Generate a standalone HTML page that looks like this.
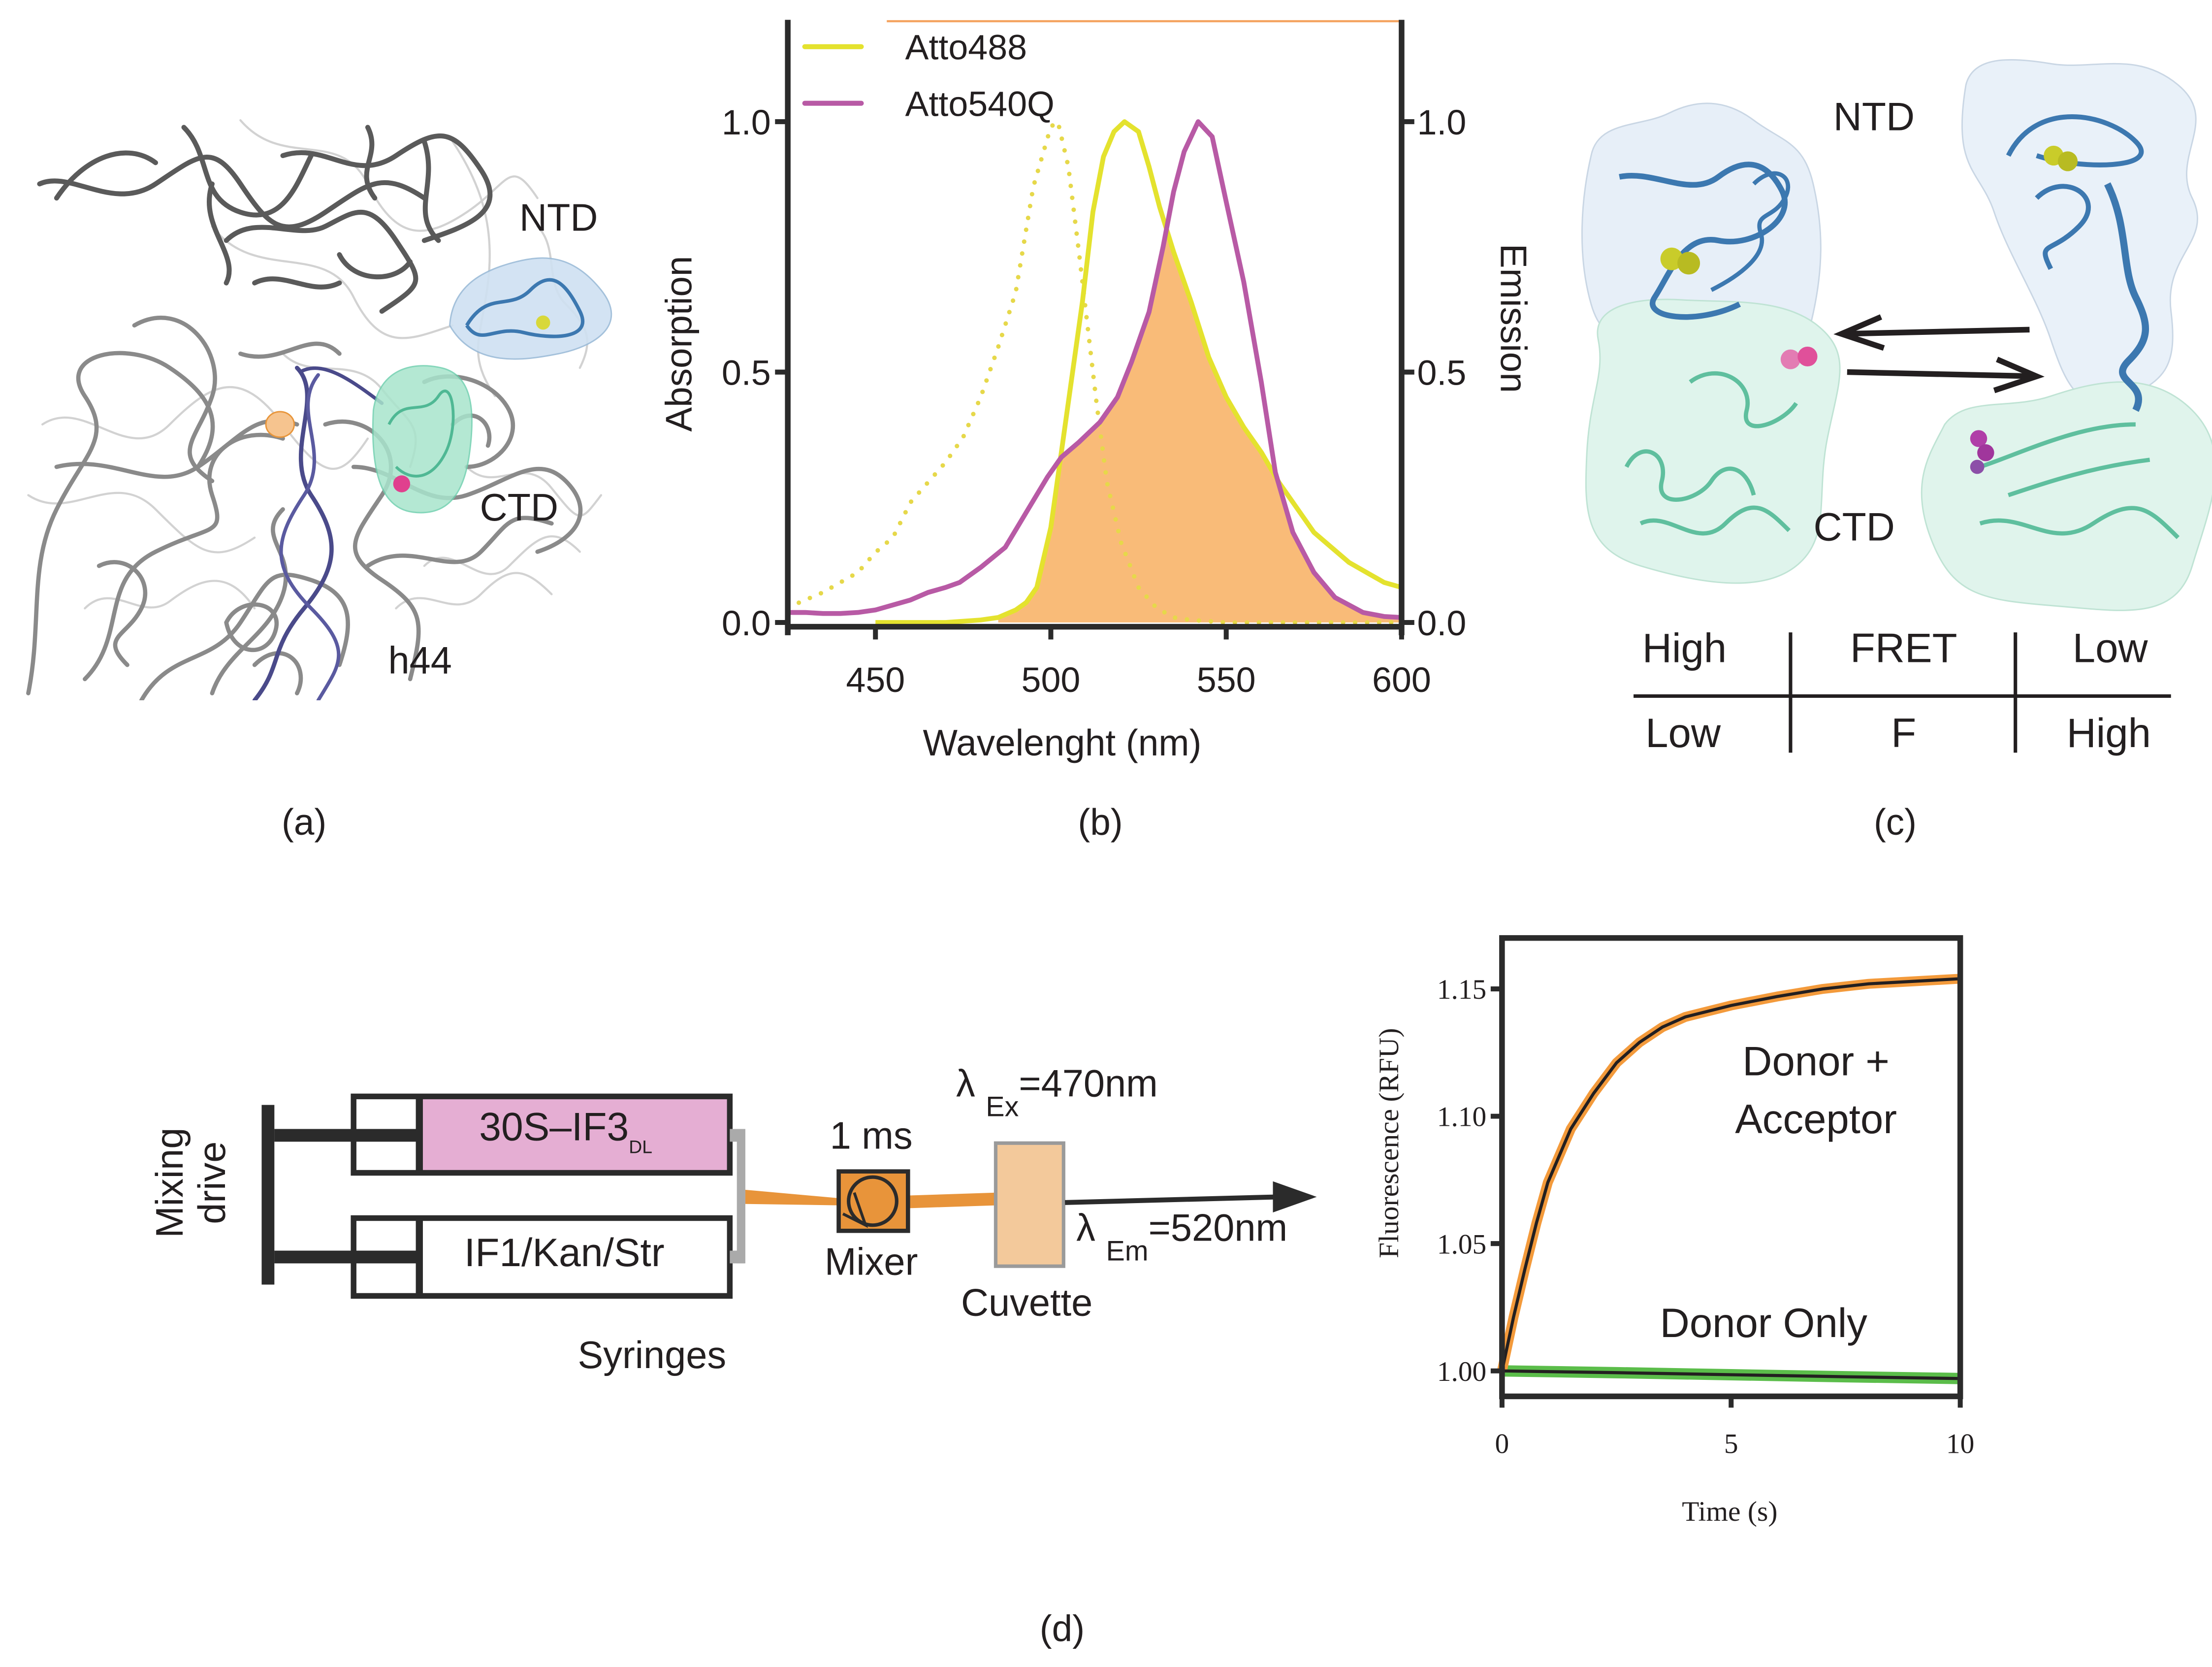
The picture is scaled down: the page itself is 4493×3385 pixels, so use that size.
<!DOCTYPE html>
<html><head><meta charset="utf-8"><style>
html,body{margin:0;padding:0;background:#fff;}
svg{display:block;}
.t{font-family:"Liberation Sans Narrow","Liberation Sans",sans-serif;fill:#231f20;}
.s{font-family:"Liberation Serif",serif;fill:#231f20;}
</style></head><body>
<svg id="fig" xmlns="http://www.w3.org/2000/svg" width="4493" height="3385" viewBox="0 0 1564 1178.3" preserveAspectRatio="none">
<rect x="0" y="0" width="1564" height="1178.3" fill="#fff"/>

<!-- Panel A -->
<g>
<clipPath id="clipA"><rect x="12" y="80" width="420" height="415"/></clipPath>
<g clip-path="url(#clipA)" fill="none" stroke-linecap="round">
 <g stroke="#d2d2d2" stroke-width="1.5">
  <path d="M170 85 C200 120 240 90 260 130 S300 170 330 150 S360 110 380 140"/>
  <path d="M150 160 C180 200 230 170 250 210 S290 240 320 230"/>
  <path d="M30 300 C60 280 90 330 120 300 S170 260 200 300 S240 340 260 310"/>
  <path d="M20 350 C50 370 80 330 110 360 S150 400 180 380"/>
  <path d="M300 400 C320 380 340 420 360 400 S390 370 410 390"/>
  <path d="M330 330 C350 350 370 320 390 345 S410 370 425 350"/>
  <path d="M280 430 C300 410 320 440 340 420 S370 400 390 420"/>
  <path d="M320 100 C340 130 350 160 345 200 S330 250 350 280"/>
  <path d="M200 250 C220 270 250 250 270 275 S300 300 290 330"/>
  <path d="M60 430 C80 410 100 440 120 425 S160 400 180 430"/>
  <path d="M380 160 C395 175 385 200 400 215 S420 240 410 260"/>
 </g>
 <g stroke="#8a8a8a" stroke-width="3">
  <path d="M20 490 C30 440 20 400 40 360 S80 310 60 280 S90 240 120 260 S160 300 140 330"/>
  <path d="M60 480 C90 450 70 410 110 390 S160 380 150 350 S170 300 200 310"/>
  <path d="M100 495 C120 460 150 470 170 440 S190 400 220 410 S250 440 240 470"/>
  <path d="M40 330 C80 320 110 350 140 330 S180 290 210 300"/>
  <path d="M150 490 C160 460 190 450 200 420 S180 380 200 360"/>
  <path d="M230 300 C260 290 290 320 270 350 S240 390 270 410 S300 440 290 480"/>
  <path d="M250 330 C280 330 300 360 330 350 S380 320 400 340 S410 380 380 390"/>
  <path d="M260 400 C290 380 320 410 340 390 S360 360 390 370"/>
  <path d="M300 270 C320 260 350 270 360 290 S350 330 330 330"/>
  <path d="M95 230 C130 210 160 250 150 280 S120 320 150 340"/>
  <path d="M170 250 C200 260 220 230 240 250"/>
  <path d="M70 400 C90 390 110 410 100 430 S70 450 90 470"/>
  <path d="M180 470 C200 450 220 470 210 490"/>
  <path d="M160 440 C170 420 200 425 195 445 S165 465 160 440"/>
  <path d="M320 300 C335 285 350 300 345 315"/>
 </g>
 <g stroke="#5a5a5a" stroke-width="3.5">
  <path d="M28 130 C50 120 80 150 110 130 S150 100 170 130 S200 170 230 150 S270 120 300 140"/>
  <path d="M40 140 C60 110 90 100 110 115"/>
  <path d="M130 90 C150 110 140 140 170 150 S210 130 220 110"/>
  <path d="M160 170 C180 150 210 170 230 160 S260 140 280 170 S300 200 270 220"/>
  <path d="M200 110 C230 100 250 130 280 110 S320 90 340 120 S330 160 300 170"/>
  <path d="M150 130 C140 160 170 180 160 200"/>
  <path d="M240 180 C250 200 280 200 290 185"/>
  <path d="M300 100 C310 130 290 150 310 170"/>
  <path d="M180 200 C200 190 220 210 240 200"/>
  <path d="M260 90 C270 110 250 120 265 140"/>
 </g>
 <path d="M210 260 C230 280 200 320 220 350 S240 400 215 430 S200 470 180 495" stroke="#4a4a8a" stroke-width="3"/>
 <path d="M225 265 C205 290 235 320 215 350 S190 400 220 430 S240 470 225 495" stroke="#5a5aa0" stroke-width="2.5"/>
 <path d="M214 262 C230 255 250 270 270 285" stroke="#4a4a8a" stroke-width="2.5"/>
 <ellipse cx="198" cy="300" rx="10" ry="9" fill="#f6c48f" stroke="#e8953a" stroke-width="1"/>
</g>
<path d="M318 230 C320 200 345 190 365 185 S405 180 425 205 S420 245 395 250 S335 260 318 230 Z" fill="#cfe1f2" stroke="#9bbbd8" stroke-width="1" opacity="0.9"/>
<path d="M330 230 C345 205 360 220 375 205 S400 200 410 220 S390 240 370 235 S340 245 330 230" fill="none" stroke="#3c78b0" stroke-width="2.5"/>
<circle cx="384" cy="228" r="5" fill="#d8d83a"/>
<path d="M264 290 C268 262 290 255 312 260 S336 290 332 320 S316 365 292 362 S262 330 264 290 Z" fill="#a8e4cc" stroke="#6fcfae" stroke-width="1" opacity="0.85"/>
<path d="M275 300 C285 280 300 295 310 280 S325 300 315 320 S290 340 280 330" fill="none" stroke="#4fb894" stroke-width="2"/>
<circle cx="284" cy="342" r="6" fill="#e0408e"/>
</g>
<text class="t" x="395" y="163" font-size="27" text-anchor="middle">NTD</text>
<text class="t" x="367" y="368" font-size="27" text-anchor="middle">CTD</text>
<text class="t" x="297" y="476" font-size="27" text-anchor="middle">h44</text>
<text class="t" x="215" y="590" font-size="26" text-anchor="middle">(a)</text>

<!-- Panel B -->
<g id="chartB"></g>
<text class="t" x="778" y="590" font-size="26" text-anchor="middle">(b)</text>

<!-- Panel C -->
<g>
 <path d="M1125 110 C1130 85 1160 90 1180 80 S1220 70 1240 85 S1275 100 1282 130 S1290 190 1280 230 S1240 250 1200 245 S1135 250 1125 215 S1118 140 1125 110 Z" fill="#e7eff8" stroke="#c9d6e4" stroke-width="1"/>
 <path d="M1130 240 C1125 215 1160 210 1190 212 S1260 210 1285 230 S1300 270 1292 310 S1295 380 1270 400 S1200 412 1160 400 S1120 360 1122 320 S1135 265 1130 240 Z" fill="#dff4ec" stroke="#bfe3d4" stroke-width="1"/>
 <path d="M1145 125 C1170 120 1195 140 1215 125 S1250 115 1260 135 S1240 175 1215 170 S1180 195 1170 210 S1200 230 1230 215" fill="none" stroke="#3c78b0" stroke-width="4"/>
 <path d="M1240 130 C1255 115 1270 125 1262 140 S1240 150 1245 165 S1230 195 1210 205" fill="none" stroke="#3c78b0" stroke-width="3"/>
 <path d="M1150 330 C1160 310 1180 320 1175 340 S1200 355 1210 340 S1235 330 1240 350 M1160 370 C1180 360 1200 390 1220 370 S1250 360 1265 375 M1195 270 C1215 255 1240 270 1235 290 S1260 300 1270 285" fill="none" stroke="#5fbf9e" stroke-width="3"/>
 <circle cx="1182" cy="183" r="8" fill="#c9cc2a"/><circle cx="1194" cy="186" r="8" fill="#b8bb22"/>
 <circle cx="1266" cy="254" r="7" fill="#e37cb3"/><circle cx="1278" cy="252" r="7" fill="#e0509a"/>
 <path d="M1390 60 C1395 40 1420 40 1450 45 S1510 35 1540 60 S1535 110 1550 140 S1530 180 1535 220 S1530 270 1500 282 S1460 270 1450 240 S1420 180 1410 150 S1380 120 1390 60 Z" fill="#e9f1f9" stroke="#c9d6e4" stroke-width="1"/>
 <path d="M1375 300 C1390 280 1420 290 1450 280 S1520 260 1550 290 S1562 360 1550 400 S1500 432 1450 428 S1380 420 1365 380 S1365 320 1375 300 Z" fill="#e0f4ec" stroke="#bfe3d4" stroke-width="1"/>
 <path d="M1420 110 C1440 70 1490 80 1510 100 S1470 120 1440 110 M1440 140 C1460 120 1490 140 1470 160 S1440 170 1450 190" fill="none" stroke="#3c78b0" stroke-width="3.5"/>
 <path d="M1490 130 C1505 160 1500 190 1510 210 S1520 240 1505 255 S1520 270 1510 290" fill="none" stroke="#3c78b0" stroke-width="5"/>
 <path d="M1400 330 C1430 320 1470 300 1510 300 M1400 370 C1430 360 1450 390 1480 370 S1520 360 1540 380 M1420 350 C1450 340 1480 330 1520 325" fill="none" stroke="#5fbf9e" stroke-width="3"/>
 <circle cx="1452" cy="110" r="7" fill="#c9cc2a"/><circle cx="1462" cy="114" r="7" fill="#b8bb22"/>
 <circle cx="1399" cy="310" r="6" fill="#b03ea8"/><circle cx="1404" cy="320" r="6" fill="#a0369c"/><circle cx="1398" cy="330" r="5" fill="#8c4fa8"/>
</g>
<g stroke="#231f20" stroke-width="4" fill="none">
 <line x1="1435" y1="233" x2="1302" y2="236"/>
 <path d="M1330 224 L1302 236 L1332 246"/>
 <line x1="1306" y1="263" x2="1440" y2="266"/>
 <path d="M1412 254 L1440 266 L1410 276"/>
</g>
<text class="t" x="1325" y="92" font-size="28" text-anchor="middle">NTD</text>
<text class="t" x="1311" y="382" font-size="28" text-anchor="middle">CTD</text>
<g>
 <line x1="1155" y1="492" x2="1535" y2="492" stroke="#231f20" stroke-width="2.5"/>
 <line x1="1266" y1="447" x2="1266" y2="532" stroke="#231f20" stroke-width="2.5"/>
 <line x1="1425" y1="447" x2="1425" y2="532" stroke="#231f20" stroke-width="2.5"/>
 <text class="t" x="1191" y="468" font-size="29" text-anchor="middle">High</text>
 <text class="t" x="1346" y="468" font-size="29" text-anchor="middle">FRET</text>
 <text class="t" x="1492" y="468" font-size="29" text-anchor="middle">Low</text>
 <text class="t" x="1190" y="528" font-size="29" text-anchor="middle">Low</text>
 <text class="t" x="1346" y="528" font-size="29" text-anchor="middle">F</text>
 <text class="t" x="1491" y="528" font-size="29" text-anchor="middle">High</text>
</g>
<text class="t" x="1340" y="590" font-size="26" text-anchor="middle">(c)</text>

<!-- Panel D schematic -->
<g>
 <rect x="185" y="781" width="9" height="127" fill="#2b2b2b"/>
 <rect x="194" y="798" width="102" height="9" fill="#2b2b2b"/>
 <rect x="194" y="884" width="102" height="9" fill="#2b2b2b"/>
 <rect x="297" y="776" width="218" height="52" fill="#e5aed3"/>
 <rect x="250" y="775" width="266" height="54" fill="none" stroke="#2b2b2b" stroke-width="4"/>
 <rect x="294" y="775" width="5" height="54" fill="#2b2b2b"/>
 <rect x="250" y="861" width="266" height="55" fill="none" stroke="#2b2b2b" stroke-width="4"/>
 <rect x="294" y="861" width="5" height="55" fill="#2b2b2b"/>
 <rect x="516" y="798" width="10" height="9" fill="#aaa"/>
 <rect x="516" y="884" width="10" height="9" fill="#aaa"/>
 <rect x="521" y="798" width="6" height="95" fill="#aaa"/>
 <path d="M527 841 L594 847 L594 852 L527 851 Z" fill="#e8943a"/>
 <path d="M643 845 L704 843 L704 852 L643 854 Z" fill="#e8943a"/>
 <rect x="593" y="828" width="49" height="42" fill="#e8943a" stroke="#2b2b2b" stroke-width="3"/>
 <circle cx="617" cy="849" r="17" fill="none" stroke="#2b2b2b" stroke-width="2.5"/>
 <path d="M604 843 L612 866 L596 858" fill="none" stroke="#2b2b2b" stroke-width="2"/>
 <rect x="704" y="808" width="48" height="87" fill="#f3c99b" stroke="#9a9a9a" stroke-width="2.5"/>
 <line x1="753" y1="850" x2="905" y2="846" stroke="#2b2b2b" stroke-width="3.5"/>
 <path d="M900 835 L931 846 L900 857 Z" fill="#2b2b2b"/>
</g>
<text class="t" x="122" y="836" font-size="27" text-anchor="middle" transform="rotate(-90 122 836)" dominant-baseline="middle">Mixing</text>
<text class="t" x="152" y="836" font-size="27" text-anchor="middle" transform="rotate(-90 152 836)" dominant-baseline="middle">drive</text>
<text class="t" x="400" y="806" font-size="28" text-anchor="middle">30S–IF3<tspan font-size="13" dy="9">DL</tspan></text>
<text class="t" x="399" y="895" font-size="28" text-anchor="middle">IF1/Kan/Str</text>
<text class="t" x="461" y="967" font-size="27" text-anchor="middle">Syringes</text>
<text class="t" x="616" y="812" font-size="27" text-anchor="middle">1 ms</text>
<text class="t" x="616" y="901" font-size="27" text-anchor="middle">Mixer</text>
<text class="t" x="726" y="930" font-size="27" text-anchor="middle">Cuvette</text>
<text class="t" x="676" y="775" font-size="27">λ <tspan font-size="20" dy="14">Ex</tspan><tspan dy="-14">=470nm</tspan></text>
<text class="t" x="761" y="877" font-size="27">λ <tspan font-size="20" dy="14">Em</tspan><tspan dy="-14">=520nm</tspan></text>

<!-- Panel D chart -->
<g id="chartD"></g>
<text class="t" x="751" y="1160" font-size="26" text-anchor="middle">(d)</text>
</svg>

<script>
// ---------- Panel B data ----------
const xTicksB = [450, 500, 550, 600];
const yTicksB = [0.0, 0.5, 1.0];
const yTickLabelsB = ["0.0", "0.5", "1.0"];
const wlAbs488 = [425,430,435,440,445,450,455,460,465,470,475,480,485,490,495,500,502,505,508,510,513,516,520,525,530,535,540,550,560,575,600];
const abs488 = [0.03,0.045,0.06,0.08,0.10,0.14,0.17,0.24,0.28,0.32,0.37,0.45,0.55,0.66,0.87,0.99,1.0,0.91,0.74,0.62,0.44,0.28,0.16,0.07,0.03,0.01,0.005,0,0,0,0];
const wlEm488 = [450,460,470,480,485,490,493,496,500,503,506,509,512,515,518,521,525,528,531,535,540,545,550,555,560,565,570,575,580,585,590,595,600];
const em488 = [0,0,0,0.005,0.01,0.025,0.04,0.07,0.19,0.34,0.49,0.64,0.82,0.93,0.98,1.0,0.98,0.91,0.83,0.74,0.64,0.53,0.45,0.39,0.34,0.28,0.23,0.18,0.15,0.12,0.10,0.08,0.07];
const wlAbs540 = [425,430,435,440,445,450,455,460,465,470,474,480,487,493,499,503,508,514,519,523,528,532,535,538,542,546,550,555,560,564,569,575,581,589,595,600];
const abs540 = [0.02,0.02,0.018,0.018,0.02,0.025,0.035,0.045,0.06,0.07,0.08,0.11,0.15,0.22,0.29,0.33,0.36,0.40,0.45,0.52,0.62,0.75,0.86,0.94,1.0,0.97,0.84,0.68,0.48,0.30,0.18,0.10,0.05,0.02,0.012,0.01];
const legendNames = ["Atto488", "Atto540Q"];

// ---------- Panel D data ----------
const xTicksD = [0, 5, 10];
const yTicksD = [1.00, 1.05, 1.10, 1.15];
const yTickLabelsD = ["1.00", "1.05", "1.10", "1.15"];
const tDA = [0,0.25,0.5,0.75,1,1.5,2,2.5,3,3.5,4,5,6,7,8,9,10];
const fitDA = [1.0,1.021,1.040,1.058,1.074,1.095,1.109,1.121,1.129,1.135,1.139,1.1435,1.147,1.150,1.152,1.153,1.154];
const tDO = [0, 2.5, 5, 7.5, 10];
const fitDO = [1.000, 0.9993, 0.9985, 0.9977, 0.997];

const NS = "http://www.w3.org/2000/svg";
function mk(tag, parent) { const e = document.createElementNS(NS, tag); parent.appendChild(e); return e; }
function pathFrom(xs, ys, sx, sy) { return xs.map((x, i) => (i ? "L" : "M") + sx(x).toFixed(2) + " " + sy(ys[i]).toFixed(2)).join(" "); }
function interp(xs, ys, x) {
  if (x <= xs[0]) return ys[0];
  for (let i = 1; i < xs.length; i++) if (x <= xs[i]) { const f = (x - xs[i-1]) / (xs[i] - xs[i-1]); return ys[i-1] + f * (ys[i] - ys[i-1]); }
  return ys[ys.length - 1];
}

// ---------- Panel B ----------
(function () {
  const g = document.getElementById("chartB");
  const L = 557, R = 991, T = 14, B = 443;
  const sx = w => L + (w - 425) / 175 * (R - L);
  const sy = v => 440 - v * 354;
  const font = '"Liberation Sans Narrow","Liberation Sans",sans-serif';

  const wg = []; for (let w = 485; w <= 600; w += 1) wg.push(w);
  const ov = wg.map(w => Math.min(interp(wlEm488, em488, w), interp(wlAbs540, abs540, w)));
  const fill = mk("path", g);
  fill.setAttribute("d", pathFrom(wg, ov, sx, sy) + " L" + sx(600) + " " + sy(0) + " L" + sx(485) + " " + sy(0) + " Z");
  fill.setAttribute("fill", "#f9bb78");
  
  

  const topLine = mk("line", g);
  topLine.setAttribute("x1", 627); topLine.setAttribute("x2", R); topLine.setAttribute("y1", T + 1); topLine.setAttribute("y2", T + 1);
  topLine.setAttribute("stroke", "#f4a460"); topLine.setAttribute("stroke-width", "1.5");
  
  

  const dot = mk("path", g);
  dot.setAttribute("d", pathFrom(wlAbs488, abs488, sx, sy));
  dot.setAttribute("fill", "none"); dot.setAttribute("stroke", "#e6d84a"); dot.setAttribute("stroke-width", "3.2");
  dot.setAttribute("stroke-dasharray", "0 8.5"); dot.setAttribute("stroke-linecap", "round");
  
  

  const em = mk("path", g);
  em.setAttribute("d", pathFrom(wlEm488, em488, sx, sy));
  em.setAttribute("fill", "none"); em.setAttribute("stroke", "#e4e22e"); em.setAttribute("stroke-width", "3.4"); em.setAttribute("stroke-linejoin", "round");
  
  

  const ab = mk("path", g);
  ab.setAttribute("d", pathFrom(wlAbs540, abs540, sx, sy));
  ab.setAttribute("fill", "none"); ab.setAttribute("stroke", "#b85aa5"); ab.setAttribute("stroke-width", "3.4"); ab.setAttribute("stroke-linejoin", "round");
  
  

  const ax = mk("path", g);
  ax.setAttribute("d", `M${L} ${T} L${L} ${B + 6} M${L - 2} ${B} L${R + 2} ${B} M${R} ${T} L${R} ${B + 6}`);
  ax.setAttribute("stroke", "#2b2b2b"); ax.setAttribute("stroke-width", "4"); ax.setAttribute("fill", "none");
  
  

  yTicksB.forEach((v, i) => {
    const tk = mk("path", g);
    tk.setAttribute("d", `M${L - 9} ${sy(v)} L${L} ${sy(v)} M${R} ${sy(v)} L${R + 9} ${sy(v)}`);
    tk.setAttribute("stroke", "#2b2b2b"); tk.setAttribute("stroke-width", "3.5");
    
    
    const lt = mk("text", g);
    lt.setAttribute("x", L - 12); lt.setAttribute("y", sy(v) + 9); lt.setAttribute("text-anchor", "end");
    lt.setAttribute("font-size", "25"); lt.setAttribute("font-family", font); lt.setAttribute("fill", "#231f20");
    lt.textContent = yTickLabelsB[i];
    
    
    const rt = mk("text", g);
    rt.setAttribute("x", R + 11); rt.setAttribute("y", sy(v) + 9);
    rt.setAttribute("font-size", "25"); rt.setAttribute("font-family", font); rt.setAttribute("fill", "#231f20");
    rt.textContent = yTickLabelsB[i];
    
    
  });
  xTicksB.forEach(w => {
    const tk = mk("line", g);
    tk.setAttribute("x1", sx(w)); tk.setAttribute("x2", sx(w)); tk.setAttribute("y1", B); tk.setAttribute("y2", B + 9);
    tk.setAttribute("stroke", "#2b2b2b"); tk.setAttribute("stroke-width", "3.5");
    
    
    const t = mk("text", g);
    t.setAttribute("x", sx(w)); t.setAttribute("y", 489); t.setAttribute("text-anchor", "middle");
    t.setAttribute("font-size", "25"); t.setAttribute("font-family", font); t.setAttribute("fill", "#231f20");
    t.textContent = w;
    
    
  });
  const xt = mk("text", g);
  xt.setAttribute("x", 751); xt.setAttribute("y", 534); xt.setAttribute("text-anchor", "middle");
  xt.setAttribute("font-size", "26"); xt.setAttribute("font-family", font); xt.setAttribute("fill", "#231f20");
  xt.textContent = "Wavelenght (nm)";
  
  
  const yt = mk("text", g);
  yt.setAttribute("x", 482); yt.setAttribute("y", 243); yt.setAttribute("text-anchor", "middle"); yt.setAttribute("dominant-baseline", "middle");
  yt.setAttribute("transform", "rotate(-90 482 243)");
  yt.setAttribute("font-size", "26"); yt.setAttribute("font-family", font); yt.setAttribute("fill", "#231f20");
  yt.textContent = "Absorption";
  
  
  const yt2 = mk("text", g);
  yt2.setAttribute("x", 1068); yt2.setAttribute("y", 225); yt2.setAttribute("text-anchor", "middle"); yt2.setAttribute("dominant-baseline", "middle");
  yt2.setAttribute("transform", "rotate(90 1068 225)");
  yt2.setAttribute("font-size", "26"); yt2.setAttribute("font-family", font); yt2.setAttribute("fill", "#231f20");
  yt2.textContent = "Emission";
  
  

  const legColors = ["#e4e22e", "#b85aa5"];
  legendNames.forEach((n, i) => {
    const y = 33 + i * 40;
    const ln = mk("line", g);
    ln.setAttribute("x1", 569); ln.setAttribute("x2", 609); ln.setAttribute("y1", y); ln.setAttribute("y2", y);
    ln.setAttribute("stroke", legColors[i]); ln.setAttribute("stroke-width", "3.5"); ln.setAttribute("stroke-linecap", "round");
    
    
    const t = mk("text", g);
    t.setAttribute("x", 640); t.setAttribute("y", y + 9);
    t.setAttribute("font-size", "25"); t.setAttribute("font-family", font); t.setAttribute("fill", "#231f20");
    t.textContent = n;
    
    
  });
})();

// ---------- Panel D chart ----------
(function () {
  const g = document.getElementById("chartD");
  const L = 1062, R = 1386, T = 663, B = 987;
  const sx = t => L + t / 10 * (R - L);
  const sy = v => 969 - (v - 1) * 1800;
  const serif = '"Liberation Serif",serif';
  const sans = '"Liberation Sans Narrow","Liberation Sans",sans-serif';

  const gr = mk("path", g);
  gr.setAttribute("d", pathFrom(tDO, fitDO, sx, sy));
  gr.setAttribute("fill", "none"); gr.setAttribute("stroke", "#5bbd4a"); gr.setAttribute("stroke-width", "8");
  
  
  const or = mk("path", g);
  or.setAttribute("d", pathFrom(tDA, fitDA, sx, sy));
  or.setAttribute("fill", "none"); or.setAttribute("stroke", "#f39a3b"); or.setAttribute("stroke-width", "7"); or.setAttribute("stroke-linejoin", "round");
  
  
  const f1 = mk("path", g);
  f1.setAttribute("d", pathFrom(tDA, fitDA, sx, sy));
  f1.setAttribute("fill", "none"); f1.setAttribute("stroke", "#231f20"); f1.setAttribute("stroke-width", "2.2");
  
  
  const f2 = mk("path", g);
  f2.setAttribute("d", pathFrom(tDO, fitDO, sx, sy));
  f2.setAttribute("fill", "none"); f2.setAttribute("stroke", "#231f20"); f2.setAttribute("stroke-width", "2.2");
  
  

  const box = mk("rect", g);
  box.setAttribute("x", L); box.setAttribute("y", T); box.setAttribute("width", R - L); box.setAttribute("height", B - T);
  box.setAttribute("fill", "none"); box.setAttribute("stroke", "#2b2b2b"); box.setAttribute("stroke-width", "4");
  
  

  yTicksD.forEach((v, i) => {
    const tk = mk("line", g);
    tk.setAttribute("x1", L - 8); tk.setAttribute("x2", L); tk.setAttribute("y1", sy(v)); tk.setAttribute("y2", sy(v));
    tk.setAttribute("stroke", "#2b2b2b"); tk.setAttribute("stroke-width", "3.5");
    
    
    const t = mk("text", g);
    t.setAttribute("x", L - 11); t.setAttribute("y", sy(v) + 7); t.setAttribute("text-anchor", "end");
    t.setAttribute("font-size", "20"); t.setAttribute("font-family", serif); t.setAttribute("fill", "#231f20");
    t.textContent = yTickLabelsD[i];
    
    
  });
  xTicksD.forEach(v => {
    const tk = mk("line", g);
    tk.setAttribute("x1", sx(v)); tk.setAttribute("x2", sx(v)); tk.setAttribute("y1", B); tk.setAttribute("y2", B + 8);
    tk.setAttribute("stroke", "#2b2b2b"); tk.setAttribute("stroke-width", "3.5");
    
    
    const t = mk("text", g);
    t.setAttribute("x", sx(v)); t.setAttribute("y", 1027); t.setAttribute("text-anchor", "middle");
    t.setAttribute("font-size", "20"); t.setAttribute("font-family", serif); t.setAttribute("fill", "#231f20");
    t.textContent = v;
    
    
  });
  const xt = mk("text", g);
  xt.setAttribute("x", 1223); xt.setAttribute("y", 1075); xt.setAttribute("text-anchor", "middle");
  xt.setAttribute("font-size", "20"); xt.setAttribute("font-family", serif); xt.setAttribute("fill", "#231f20");
  xt.textContent = "Time (s)";
  
  
  const yt = mk("text", g);
  yt.setAttribute("x", 984); yt.setAttribute("y", 808); yt.setAttribute("text-anchor", "middle"); yt.setAttribute("dominant-baseline", "middle");
  yt.setAttribute("transform", "rotate(-90 984 808)");
  yt.setAttribute("font-size", "20"); yt.setAttribute("font-family", serif); yt.setAttribute("fill", "#231f20");
  yt.textContent = "Fluorescence  (RFU)";
  
  

  const labels = [["Donor +", 1284, 760], ["Acceptor", 1284, 801], ["Donor Only", 1247, 945]];
  labels.forEach(l => {
    const t = mk("text", g);
    t.setAttribute("x", l[1]); t.setAttribute("y", l[2]); t.setAttribute("text-anchor", "middle");
    t.setAttribute("font-size", "29"); t.setAttribute("font-family", sans); t.setAttribute("fill", "#231f20");
    t.textContent = l[0];
    
    
  });
})();
</script>
</body></html>
